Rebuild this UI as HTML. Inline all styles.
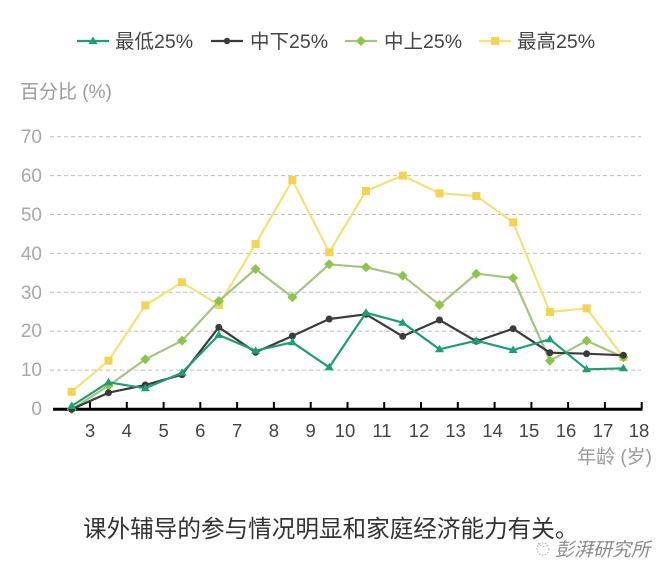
<!DOCTYPE html>
<html><head><meta charset="utf-8"><style>
html,body{margin:0;padding:0;background:#fff;}
svg{display:block;}
text{font-family:"Liberation Sans","Noto Sans CJK SC",sans-serif;}
</style></head><body>
<svg width="671" height="578" viewBox="0 0 671 578" xmlns="http://www.w3.org/2000/svg">
<rect width="671" height="578" fill="#fff"/>
<!-- legend -->
<g font-size="19.5" fill="#444">
<line x1="77" y1="41" x2="109" y2="41" stroke="#1f9e75" stroke-width="2.2"/>
<polygon points="93,36.5 97.5,44 88.5,44" fill="#1f9e75"/>
<text x="115" y="48">最低25%</text>
<line x1="211" y1="41" x2="243" y2="41" stroke="#3b3b3b" stroke-width="2.2"/>
<circle cx="227" cy="41" r="3.2" fill="#3b3b3b"/>
<text x="250" y="48">中下25%</text>
<line x1="345" y1="41" x2="377" y2="41" stroke="#a5c47e" stroke-width="2.2"/>
<polygon points="361,36 366,41 361,46 356,41" fill="#8dc44b"/>
<text x="384" y="48">中上25%</text>
<line x1="479" y1="41" x2="511" y2="41" stroke="#f5e17a" stroke-width="2.2"/>
<rect x="491" y="37" width="8" height="8" fill="#f2d452"/>
<text x="517" y="48">最高25%</text>
</g>
<text x="20" y="98" font-size="19" fill="#9a9a9a">百分比 (%)</text>
<!-- grid -->
<g stroke="#bdbdbd" stroke-width="1" stroke-dasharray="4,3">
<line x1="50" y1="136.7" x2="641" y2="136.7"/>
<line x1="50" y1="175.6" x2="641" y2="175.6"/>
<line x1="50" y1="214.5" x2="641" y2="214.5"/>
<line x1="50" y1="253.4" x2="641" y2="253.4"/>
<line x1="50" y1="292.3" x2="641" y2="292.3"/>
<line x1="50" y1="331.2" x2="641" y2="331.2"/>
<line x1="50" y1="370.1" x2="641" y2="370.1"/>
</g>
<g font-size="19" fill="#a8a8a8" text-anchor="end">
<text x="42" y="143">70</text>
<text x="42" y="182">60</text>
<text x="42" y="221">50</text>
<text x="42" y="260">40</text>
<text x="42" y="299">30</text>
<text x="42" y="337">20</text>
<text x="42" y="376">10</text>
<text x="42" y="415">0</text>
</g>
<!-- axis -->
<line x1="53" y1="409.3" x2="642.5" y2="409.3" stroke="#000" stroke-width="3"/>
<g stroke="#000" stroke-width="2">
<line x1="90" y1="402" x2="90" y2="409"/>
<line x1="126.8" y1="402" x2="126.8" y2="409"/>
<line x1="163.6" y1="402" x2="163.6" y2="409"/>
<line x1="200.3" y1="402" x2="200.3" y2="409"/>
<line x1="237.1" y1="402" x2="237.1" y2="409"/>
<line x1="273.9" y1="402" x2="273.9" y2="409"/>
<line x1="310.7" y1="402" x2="310.7" y2="409"/>
<line x1="347.5" y1="402" x2="347.5" y2="409"/>
<line x1="384.2" y1="402" x2="384.2" y2="409"/>
<line x1="421" y1="402" x2="421" y2="409"/>
<line x1="457.8" y1="402" x2="457.8" y2="409"/>
<line x1="494.6" y1="402" x2="494.6" y2="409"/>
<line x1="531.4" y1="402" x2="531.4" y2="409"/>
<line x1="568.1" y1="402" x2="568.1" y2="409"/>
<line x1="604.9" y1="402" x2="604.9" y2="409"/>
<line x1="641.7" y1="402" x2="641.7" y2="409"/>
</g>
<g font-size="18.5" fill="#444" text-anchor="middle">
<text x="90" y="437">3</text>
<text x="126.8" y="437">4</text>
<text x="163.6" y="437">5</text>
<text x="200.3" y="437">6</text>
<text x="237.1" y="437">7</text>
<text x="273.9" y="437">8</text>
<text x="310.7" y="437">9</text>
<text x="345" y="437">10</text>
<text x="382" y="437">11</text>
<text x="419" y="437">12</text>
<text x="455.5" y="437">13</text>
<text x="492.5" y="437">14</text>
<text x="529" y="437">15</text>
<text x="566" y="437">16</text>
<text x="603" y="437">17</text>
<text x="639" y="437">18</text>
</g>
<text x="652" y="463" font-size="19" fill="#9a9a9a" text-anchor="end">年龄 (岁)</text>

<!-- yellow 最高 -->
<polyline fill="none" stroke="#f5e17a" stroke-width="2.2" stroke-linejoin="round" points="71.7,391.8 108.5,360.7 145.3,305.4 182,282.3 218.8,305 255.6,244 292.4,180 329.2,252.3 366,191 402.7,175.6 439.5,193.3 476.3,196 513.1,222.3 549.9,312 586.6,308.3 623.4,357.3"/>
<g fill="#f2d452">
<rect x="67.7" y="387.8" width="8" height="8"/><rect x="104.5" y="356.7" width="8" height="8"/><rect x="141.3" y="301.4" width="8" height="8"/><rect x="178" y="278.3" width="8" height="8"/><rect x="214.8" y="301" width="8" height="8"/><rect x="251.6" y="240" width="8" height="8"/><rect x="288.4" y="176" width="8" height="8"/><rect x="325.2" y="248.3" width="8" height="8"/><rect x="362" y="187" width="8" height="8"/><rect x="398.7" y="171.6" width="8" height="8"/><rect x="435.5" y="189.3" width="8" height="8"/><rect x="472.3" y="192" width="8" height="8"/><rect x="509.1" y="218.3" width="8" height="8"/><rect x="545.9" y="308" width="8" height="8"/><rect x="582.6" y="304.3" width="8" height="8"/><rect x="619.4" y="353.3" width="8" height="8"/>
</g>
<!-- light green 中上 -->
<polyline fill="none" stroke="#a5c47e" stroke-width="2.2" stroke-linejoin="round" points="71.7,409.3 108.5,385.7 145.3,359.3 182,340.7 218.8,301 255.6,269 292.4,297.3 329.2,264.3 366,267.3 402.7,275.7 439.5,305 476.3,273.7 513.1,278 549.9,360.7 586.6,340.7 623.4,357.3"/>
<g fill="#8dc44b">
<polygon points="71.7,404.3 76.7,409.3 71.7,414.3 66.7,409.3"/><polygon points="108.5,380.7 113.5,385.7 108.5,390.7 103.5,385.7"/><polygon points="145.3,354.3 150.3,359.3 145.3,364.3 140.3,359.3"/><polygon points="182,335.7 187,340.7 182,345.7 177,340.7"/><polygon points="218.8,296 223.8,301 218.8,306 213.8,301"/><polygon points="255.6,264 260.6,269 255.6,274 250.6,269"/><polygon points="292.4,292.3 297.4,297.3 292.4,302.3 287.4,297.3"/><polygon points="329.2,259.3 334.2,264.3 329.2,269.3 324.2,264.3"/><polygon points="366,262.3 371,267.3 366,272.3 361,267.3"/><polygon points="402.7,270.7 407.7,275.7 402.7,280.7 397.7,275.7"/><polygon points="439.5,300 444.5,305 439.5,310 434.5,305"/><polygon points="476.3,268.7 481.3,273.7 476.3,278.7 471.3,273.7"/><polygon points="513.1,273 518.1,278 513.1,283 508.1,278"/><polygon points="549.9,355.7 554.9,360.7 549.9,365.7 544.9,360.7"/><polygon points="586.6,335.7 591.6,340.7 586.6,345.7 581.6,340.7"/><polygon points="623.4,352.3 628.4,357.3 623.4,362.3 618.4,357.3"/>
</g>
<!-- dark 中下 -->
<polyline fill="none" stroke="#3b3b3b" stroke-width="2.2" stroke-linejoin="round" points="71.7,409.3 108.5,392.7 145.3,385 182,374.7 218.8,327.3 255.6,352.3 292.4,336 329.2,319 366,314.3 402.7,336.3 439.5,320 476.3,341.3 513.1,328.7 549.9,352.7 586.6,353.7 623.4,355.3"/>
<g fill="#3b3b3b">
<circle cx="71.7" cy="409.3" r="3.5"/><circle cx="108.5" cy="392.7" r="3.5"/><circle cx="145.3" cy="385" r="3.5"/><circle cx="182" cy="374.7" r="3.5"/><circle cx="218.8" cy="327.3" r="3.5"/><circle cx="255.6" cy="352.3" r="3.5"/><circle cx="292.4" cy="336" r="3.5"/><circle cx="329.2" cy="319" r="3.5"/><circle cx="366" cy="314.3" r="3.5"/><circle cx="402.7" cy="336.3" r="3.5"/><circle cx="439.5" cy="320" r="3.5"/><circle cx="476.3" cy="341.3" r="3.5"/><circle cx="513.1" cy="328.7" r="3.5"/><circle cx="549.9" cy="352.7" r="3.5"/><circle cx="586.6" cy="353.7" r="3.5"/><circle cx="623.4" cy="355.3" r="3.5"/>
</g>
<!-- teal 最低 -->
<polyline fill="none" stroke="#1f9e75" stroke-width="2.2" stroke-linejoin="round" points="71.7,406 108.5,382.3 145.3,388.3 182,372.7 218.8,335 255.6,350.7 292.4,342.3 329.2,367.3 366,312.7 402.7,322.7 439.5,349.3 476.3,340.7 513.1,350 549.9,339.3 586.6,369.3 623.4,368.3"/>
<g fill="#1f9e75">
<polygon points="71.7,401.5 76.2,409 67.2,409"/><polygon points="108.5,377.8 113,385.3 104,385.3"/><polygon points="145.3,383.8 149.8,391.3 140.8,391.3"/><polygon points="182,368.2 186.5,375.7 177.5,375.7"/><polygon points="218.8,330.5 223.3,338 214.3,338"/><polygon points="255.6,346.2 260.1,353.7 251.1,353.7"/><polygon points="292.4,337.8 296.9,345.3 287.9,345.3"/><polygon points="329.2,362.8 333.7,370.3 324.7,370.3"/><polygon points="366,308.2 370.5,315.7 361.5,315.7"/><polygon points="402.7,318.2 407.2,325.7 398.2,325.7"/><polygon points="439.5,344.8 444,352.3 435,352.3"/><polygon points="476.3,336.2 480.8,343.7 471.8,343.7"/><polygon points="513.1,345.5 517.6,353 508.6,353"/><polygon points="549.9,334.8 554.4,342.3 545.4,342.3"/><polygon points="586.6,364.8 591.1,372.3 582.1,372.3"/><polygon points="623.4,363.8 627.9,371.3 618.9,371.3"/>
</g>

<!-- caption -->
<text x="83" y="537" font-size="23.6" fill="#333">课外辅导的参与情况明显和家庭经济能力有关。</text>
<g fill="none" stroke="#aaa" stroke-width="1" stroke-dasharray="1.5,1.5">
<circle cx="543" cy="549" r="6"/>
<path d="M538,543 Q543,549 548,545"/>
</g>
<text x="555" y="556" font-size="19" fill="#888" font-style="italic">彭湃研究所</text>
</svg>
</body></html>
